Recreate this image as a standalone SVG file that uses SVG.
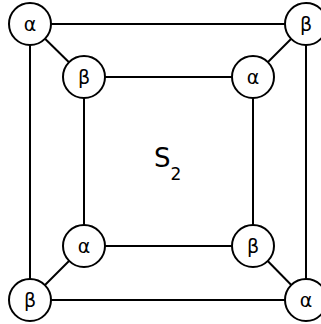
<svg xmlns="http://www.w3.org/2000/svg" width="321" height="324" viewBox="0 0 321 324">
<style>
.n{fill:#fff;stroke:#000;stroke-width:2}
.t{font-family:"DejaVu Sans",sans-serif;font-size:19px;text-anchor:middle;dominant-baseline:central;fill:#000}
.e{stroke:#000;stroke-width:2;fill:none}
</style>
<rect width="321" height="324" fill="#fff"/>
<g id="edges">
<line class="e" x1="30" y1="24" x2="306" y2="24"/>
<line class="e" x1="30" y1="300" x2="306" y2="300"/>
<line class="e" x1="30" y1="24" x2="30" y2="300"/>
<line class="e" x1="306" y1="24" x2="306" y2="300"/>
<line class="e" x1="84" y1="77" x2="253" y2="77"/>
<line class="e" x1="84" y1="246" x2="253" y2="246"/>
<line class="e" x1="84" y1="77" x2="84" y2="246"/>
<line class="e" x1="253" y1="77" x2="253" y2="246"/>
<line class="e" x1="30" y1="24" x2="84" y2="77"/>
<line class="e" x1="306" y1="24" x2="253" y2="77"/>
<line class="e" x1="30" y1="300" x2="84" y2="246"/>
<line class="e" x1="306" y1="300" x2="253" y2="246"/>
</g>
<g id="n1"><circle class="n" cx="30" cy="24" r="21"/><text class="t" x="30" y="24">α</text></g>
<g id="n2"><circle class="n" cx="306" cy="24" r="21"/><text class="t" x="306" y="24">β</text></g>
<g id="n3"><circle class="n" cx="30" cy="300" r="21"/><text class="t" x="30" y="300">β</text></g>
<g id="n4"><circle class="n" cx="306" cy="300" r="21"/><text class="t" x="306" y="300">α</text></g>
<g id="n5"><circle class="n" cx="84" cy="77" r="21"/><text class="t" x="84" y="77">β</text></g>
<g id="n6"><circle class="n" cx="253" cy="77" r="21"/><text class="t" x="253" y="77">α</text></g>
<g id="n7"><circle class="n" cx="84" cy="246" r="21"/><text class="t" x="84" y="246">α</text></g>
<g id="n8"><circle class="n" cx="253" cy="246" r="21"/><text class="t" x="253" y="246">β</text></g>
<g id="label"><text font-family="DejaVu Sans,sans-serif" font-size="26" x="154" y="167">S<tspan font-size="17" dy="13">2</tspan></text></g>
</svg>
